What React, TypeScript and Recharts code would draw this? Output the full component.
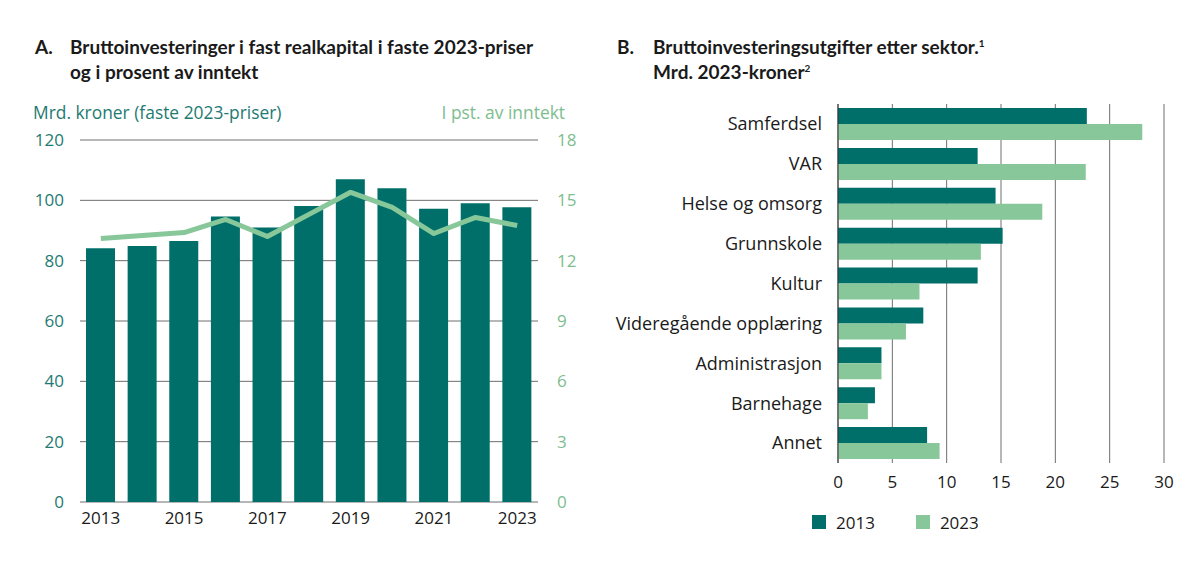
import { ComposedChart, BarChart, Bar, Line, XAxis, YAxis, CartesianGrid, Legend } from 'recharts'

// Figur A: bruttoinvesteringer
const years = ['2013', '2014', '2015', '2016', '2017', '2018', '2019', '2020', '2021', '2022', '2023']
const investeringMrd = [84.1, 84.9, 86.5, 94.6, 91.0, 98.1, 107.0, 104.0, 97.2, 99.0, 97.7]
const prosentAvInntekt = [13.1, 13.25, 13.4, 14.05, 13.2, 14.3, 15.4, 14.65, 13.35, 14.15, 13.75]
const leftTicks = [0, 20, 40, 60, 80, 100, 120]
const rightTicks = [0, 3, 6, 9, 12, 15, 18]

// Figur B: utgifter etter sektor
const sektorer = [
  'Samferdsel',
  'VAR',
  'Helse og omsorg',
  'Grunnskole',
  'Kultur',
  'Videregående opplæring',
  'Administrasjon',
  'Barnehage',
  'Annet',
]
const verdi2013 = [22.9, 12.85, 14.5, 15.15, 12.85, 7.85, 4.0, 3.4, 8.2]
const verdi2023 = [28.0, 22.8, 18.8, 13.15, 7.5, 6.25, 4.0, 2.75, 9.35]
const sektorTicks = [0, 5, 10, 15, 20, 25, 30]

const DARK = '#006f69'
const LIGHT = '#88c79a'
const FONT = '"Open Sans", sans-serif'
const TITLE_FONT = 'Lato, sans-serif'

const dataA = years.map((y, i) => ({ year: y, inv: investeringMrd[i], pst: prosentAvInntekt[i] }))
const dataB = sektorer.map((s, i) => ({ sektor: s, v2013: verdi2013[i], v2023: verdi2023[i] }))

function LegendB() {
  return (
    <div style={{ display: 'flex', alignItems: 'center', paddingLeft: 192, fontSize: 17, color: '#1a1a1a', fontFamily: FONT, height: 20 }}>
      <span style={{ width: 14, height: 14, background: DARK, display: 'inline-block', marginRight: 10 }} />
      <span style={{ marginRight: 41 }}>2013</span>
      <span style={{ width: 14, height: 14, background: LIGHT, display: 'inline-block', marginRight: 10 }} />
      <span>2023</span>
    </div>
  )
}

const titleStyle: React.CSSProperties = {
  position: 'absolute',
  fontFamily: TITLE_FONT,
  fontWeight: 700,
  fontSize: 19,
  lineHeight: '25px',
  color: '#1a1a1a',
}

const supStyle: React.CSSProperties = { fontSize: 10, lineHeight: 0, verticalAlign: 'super' }

export default function App() {
  return (
    <div style={{ position: 'absolute', left: 0, top: 0, width: 1200, height: 569, background: '#fff', fontFamily: FONT }}>
      <div style={{ ...titleStyle, left: 35, top: 34 }}>A.</div>
      <div style={{ ...titleStyle, left: 70, top: 34 }}>
        Bruttoinvesteringer i fast realkapital i faste 2023-priser
        <br />
        og i prosent av inntekt
      </div>
      <div style={{ ...titleStyle, left: 617, top: 34 }}>B.</div>
      <div style={{ ...titleStyle, left: 653, top: 34 }}>
        Bruttoinvesteringsutgifter etter sektor.<span style={supStyle}>1</span>
        <br />
        Mrd. 2023-kroner<span style={supStyle}>2</span>
      </div>
      <div style={{ position: 'absolute', left: 33, top: 100, fontSize: 17.4, color: '#1e7a72' }}>
        Mrd. kroner (faste 2023-priser)
      </div>
      <div style={{ position: 'absolute', right: 1200 - 565, top: 100, fontSize: 17.4, color: '#7dbd8e' }}>
        I pst. av inntekt
      </div>

      <div style={{ position: 'absolute', left: 0, top: 0 }}>
        <ComposedChart width={600} height={569} data={dataA} margin={{ top: 140, right: 22, bottom: 37, left: 20 }}>
          <CartesianGrid yAxisId="left" vertical={false} stroke="#6e6e6e" />
          <XAxis
            dataKey="year"
            interval={1}
            tickLine={false}
            axisLine={false}
            height={30}
            tickSize={0}
            tickMargin={10}
            tick={{ fontSize: 17, fill: '#1a1a1a', fontFamily: FONT }}
          />
          <YAxis
            yAxisId="left"
            domain={[0, 120]}
            ticks={leftTicks}
            width={60}
            tickLine={false}
            axisLine={false}
            tickSize={0}
            tickMargin={16}
            tick={{ fontSize: 17, fill: '#1e7a72', fontFamily: FONT }}
          />
          <YAxis
            yAxisId="right"
            orientation="right"
            domain={[0, 18]}
            ticks={rightTicks}
            width={40}
            tickLine={false}
            axisLine={false}
            tickSize={0}
            tickMargin={19}
            tick={{ fontSize: 17, fill: '#7dbd8e', fontFamily: FONT, textAnchor: 'start' }}
          />
          <Bar yAxisId="left" dataKey="inv" fill={DARK} barSize={29} isAnimationActive={false} />
          <Line
            yAxisId="right"
            dataKey="pst"
            type="linear"
            stroke={LIGHT}
            strokeWidth={5}
            dot={false}
            activeDot={false}
            strokeLinejoin="round"
            isAnimationActive={false}
          />
        </ComposedChart>
      </div>

      <div style={{ position: 'absolute', left: 600, top: 0 }}>
        <BarChart
          width={600}
          height={569}
          data={dataB}
          layout="vertical"
          barCategoryGap="10%"
          barGap={0}
          margin={{ top: 104, right: 36, bottom: 37, left: 20 }}
        >
          <CartesianGrid horizontal={false} stroke="#6e6e6e" />
          <XAxis
            type="number"
            domain={[0, 30]}
            ticks={sektorTicks}
            height={49}
            tickLine={false}
            axisLine={false}
            tickSize={0}
            tickMargin={13}
            tick={{ fontSize: 17, fill: '#1a1a1a', fontFamily: FONT }}
          />
          <YAxis
            type="category"
            dataKey="sektor"
            width={218}
            tickLine={false}
            axisLine={{ stroke: '#333' }}
            tickSize={0}
            tickMargin={16}
            tick={{ fontSize: 18, fill: '#1a1a1a', fontFamily: FONT }}
          />
          <Legend verticalAlign="bottom" content={() => <LegendB />} />
          <Bar dataKey="v2013" name="2013" fill={DARK} isAnimationActive={false} />
          <Bar dataKey="v2023" name="2023" fill={LIGHT} isAnimationActive={false} />
        </BarChart>
      </div>
    </div>
  )
}
